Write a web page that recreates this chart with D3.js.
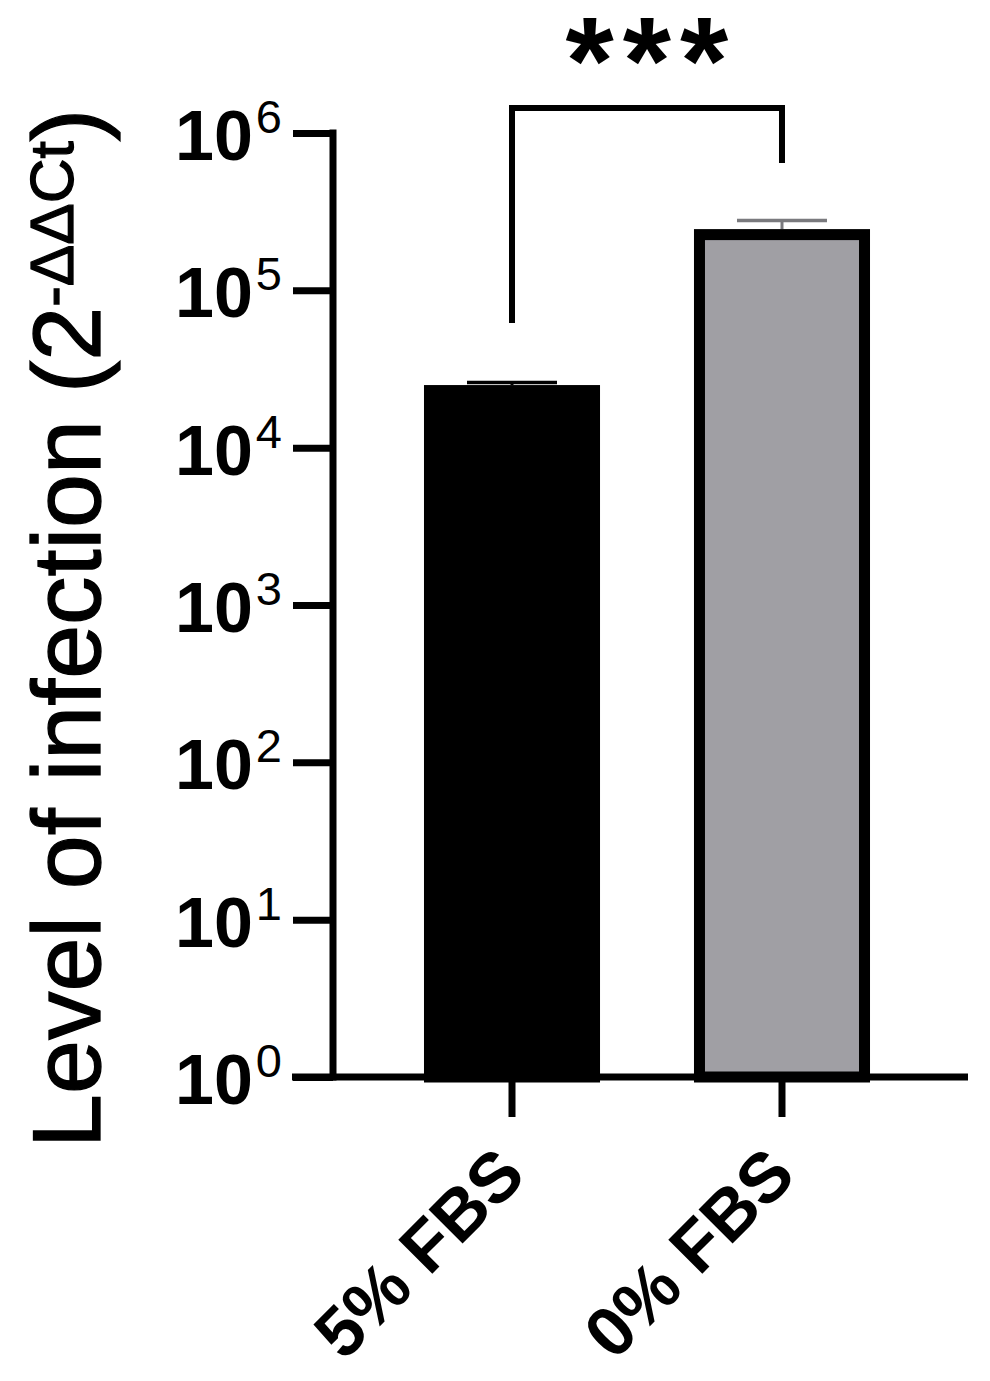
<!DOCTYPE html>
<html><head><meta charset="utf-8">
<script src="https://cdn.jsdelivr.net/npm/d3@7"></script>
<style>body{margin:0;background:#fff}svg{display:block}text{font-family:"Liberation Sans",Arial,sans-serif}</style>
</head><body><svg id="c" width="990" height="1381"></svg>
<script>
// ---- data ----
const categories = ["5% FBS", "0% FBS"];
const means = [25000, 245000];
const errors = [1000, 33000];
const fills = ["#000000", "#a09fa4"];
const errorColors = ["#000000", "#7a7a7e"];
const tickValues = [1, 10, 100, 1000, 10000, 100000, 1000000];
const tickExponents = ["0", "1", "2", "3", "4", "5", "6"];
const significance = "***";
const yTitleMain = "Level of infection (2";
const yTitleSup = "-ΔΔCt";
const yTitleEnd = ")";

// ---- layout ----
const X0 = 333, BASE = 1077, TOP = 133;
const svg = d3.select("#c");
const y = d3.scaleLog().domain([1, 1e6]).range([BASE, TOP]);
const x = d3.scaleBand().domain(categories).range([X0, 961]).paddingInner(0.348).paddingOuter(0.337);
const bw = x.bandwidth();
const cx = c => x(c) + bw / 2;

const data = categories.map((c, i) => ({c, m: means[i], e: errors[i], fill: fills[i], ec: errorColors[i]}));

// error bars (upper only)
const eb = svg.append("g");
data.forEach(d => {
  eb.append("line").attr("x1", cx(d.c)).attr("x2", cx(d.c))
    .attr("y1", y(d.m)).attr("y2", y(d.m + d.e))
    .attr("stroke", d.ec).attr("stroke-width", 3);
  eb.append("line").attr("x1", cx(d.c) - 45).attr("x2", cx(d.c) + 45)
    .attr("y1", y(d.m + d.e)).attr("y2", y(d.m + d.e))
    .attr("stroke", d.ec).attr("stroke-width", 3.5);
});

// bars
const BW = 11;
svg.append("g").selectAll("rect").data(data).join("rect")
  .attr("x", d => x(d.c) + BW / 2)
  .attr("y", d => y(d.m) + BW / 2)
  .attr("width", bw - BW)
  .attr("height", d => BASE - y(d.m) - BW / 2)
  .attr("fill", d => d.fill)
  .attr("stroke", "#000").attr("stroke-width", BW);

// y axis ticks
const yAxis = d3.axisLeft(y).tickValues(tickValues).tickSize(40).tickSizeOuter(0).tickFormat("");
const gy = svg.append("g").attr("transform", `translate(${X0},0)`).call(yAxis);
gy.select(".domain").remove();
gy.selectAll(".tick line").attr("stroke", "#000").attr("stroke-width", 7);

// y tick labels 10^n
const lab = svg.append("g");
tickValues.forEach((v, i) => {
  const t = lab.append("text").attr("x", 282).attr("y", y(v) + 27).attr("text-anchor", "end");
  t.append("tspan").attr("font-size", 70).attr("font-weight", "bold").text("10");
  t.append("tspan").attr("font-size", 47).attr("dx", 3).attr("dy", -27).text(tickExponents[i]);
});

// x axis ticks
const xAxis = d3.axisBottom(x).tickSize(40).tickSizeOuter(0).tickFormat("");
const gx = svg.append("g").attr("transform", `translate(0,${BASE})`).call(xAxis);
gx.select(".domain").remove();
gx.selectAll(".tick line").attr("stroke", "#000").attr("stroke-width", 7);

// axis lines
svg.append("line").attr("x1", X0).attr("x2", X0).attr("y1", BASE + 3.5).attr("y2", TOP - 3.5)
  .attr("stroke", "#000").attr("stroke-width", 7);
svg.append("line").attr("x1", 292).attr("x2", 968).attr("y1", BASE).attr("y2", BASE)
  .attr("stroke", "#000").attr("stroke-width", 7);

// x labels
categories.forEach(c => {
  svg.append("text").attr("transform", `translate(${cx(c) + 16},1178) rotate(-45)`)
    .attr("text-anchor", "end").attr("font-size", 70).attr("font-weight", "bold").text(c);
});

// y title
const title = svg.append("text").attr("transform", "translate(100,1148) rotate(-90)").attr("font-size", 97)
  .attr("stroke", "#000").attr("stroke-width", 1.3);
title.append("tspan").text(yTitleMain);
title.append("tspan").attr("font-size", 62).attr("dy", -27).text(yTitleSup);
title.append("tspan").attr("font-size", 97).attr("dy", 27).text(yTitleEnd);

// significance bracket
const c0 = cx(categories[0]), c1 = cx(categories[1]);
svg.append("path").attr("d", `M${c0},323V108H${c1}V163`)
  .attr("fill", "none").attr("stroke", "#000").attr("stroke-width", 6);
const LS = 9;
svg.append("text").attr("x", (c0 + c1) / 2 + LS / 2).attr("y", 104)
  .attr("text-anchor", "middle").attr("font-size", 124).attr("font-weight", "bold")
  .attr("letter-spacing", LS).text(significance);
</script></body></html>
